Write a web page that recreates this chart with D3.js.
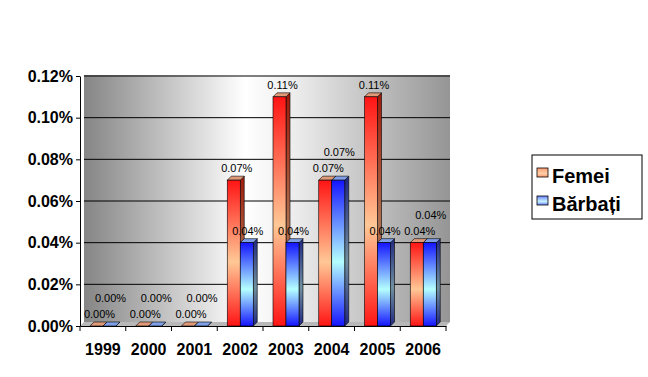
<!DOCTYPE html>
<html>
<head>
<meta charset="utf-8">
<script src="https://cdn.jsdelivr.net/npm/d3@7"></script>
<style>
  body { margin: 0; background: #fff; }
  svg { display: block; font-family: Arial, "Liberation Sans", sans-serif; }
</style>
</head>
<body>
<div id="chart"></div>
<script>
// values are already in percent (0.07 -> "0.07%")
var years = ["1999", "2000", "2001", "2002", "2003", "2004", "2005", "2006"];
var femei = [0, 0, 0, 0.07, 0.11, 0.07, 0.11, 0.04];
var barbati = [0, 0, 0, 0.04, 0.04, 0.07, 0.04, 0.04];
var seriesNames = ["Femei", "Bărbați"];
var yTicks = [0, 0.02, 0.04, 0.06, 0.08, 0.10, 0.12];

var svgWidth = 648, svgHeight = 377;
var depth = 4; // fake 3d offset
var pct = d => d.toFixed(2) + "%";

var svg = d3.select("#chart").append("svg")
  .attr("width", svgWidth)
  .attr("height", svgHeight);

var defs = svg.append("defs");

// back wall gradient
var wallGrad = defs.append("linearGradient").attr("id", "wall")
  .attr("x1", 0).attr("x2", 1).attr("y1", 0).attr("y2", 0);
wallGrad.append("stop").attr("offset", "0%").attr("stop-color", "#858585");
wallGrad.append("stop").attr("offset", "44%").attr("stop-color", "#ffffff");
wallGrad.append("stop").attr("offset", "58%").attr("stop-color", "#ececec");
wallGrad.append("stop").attr("offset", "100%").attr("stop-color", "#959595");

function vGrad(id, edge, mid) {
  var g = defs.append("linearGradient").attr("id", id)
    .attr("x1", 0).attr("x2", 0).attr("y1", 0).attr("y2", 1);
  g.append("stop").attr("offset", "0%").attr("stop-color", edge);
  g.append("stop").attr("offset", "56%").attr("stop-color", mid);
  g.append("stop").attr("offset", "100%").attr("stop-color", edge);
}
vGrad("redFront", "#ff1414", "#ffc896");
vGrad("blueFront", "#1414ff", "#b4ffff");
vGrad("redSide", "#a01a0a", "#b07050");
vGrad("blueSide", "#202880", "#7090a0");

var colors = {
  "Femei": { front: "url(#redFront)", side: "url(#redSide)", top: "#e09a78" },
  "Bărbați": { front: "url(#blueFront)", side: "url(#blueSide)", top: "#7fa0e8" }
};

// scales
var x0 = d3.scaleBand().domain(years).range([80, 446]);
var x1 = d3.scaleBand().domain(seriesNames).range([10, 36]);
var y = d3.scaleLinear().domain([0, 0.12]).range([326, 76]);

// back wall
svg.append("rect")
  .attr("x", 80 + depth).attr("y", y(0.12) - 1)
  .attr("width", x0.range()[1] - 80)
  .attr("height", y(0) - y(0.12) - 3)
  .attr("fill", "url(#wall)");

// floor
svg.append("path")
  .attr("d", `M80,${y(0)} L${80 + depth},${y(0) - depth} L${446 + depth},${y(0) - depth} L446,${y(0)} Z`)
  .attr("fill", "#b8b8b8");

// gridlines
svg.append("g").selectAll("line")
  .data(yTicks.slice(1))
  .enter().append("line")
  .attr("x1", 80 + depth).attr("x2", 446 + depth)
  .attr("y1", d => y(d)).attr("y2", d => y(d))
  .attr("stroke", "#000").attr("stroke-width", 1);

// y axis
var yAxis = d3.axisLeft(y).tickValues(yTicks)
  .tickFormat(pct).tickSize(4).tickSizeOuter(0);
var yG = svg.append("g").attr("transform", "translate(80,0)").call(yAxis);
yG.selectAll("text").attr("font-size", 16).attr("font-weight", "bold")
  .attr("font-family", "Arial, 'Liberation Sans', sans-serif").attr("fill", "#000")
  .attr("x", -7);

// bars
var rows = years.map((yr, i) => ({ year: yr, vals: [
  { name: "Femei", v: femei[i] }, { name: "Bărbați", v: barbati[i] }] }));

var groups = svg.append("g").selectAll("g")
  .data(rows).enter().append("g")
  .attr("transform", d => `translate(${x0(d.year)},0)`);

var bars = groups.selectAll("g.bar")
  .data(d => d.vals).enter().append("g").attr("class", "bar");

bars.each(function (d) {
  var g = d3.select(this);
  var bx = x1(d.name), bw = x1.bandwidth();
  var top = y(d.v), bot = y(0);
  var c = colors[d.name];
  // side face
  g.append("path")
    .attr("d", `M${bx + bw},${top} L${bx + bw + depth},${top - depth} L${bx + bw + depth},${bot - depth} L${bx + bw},${bot} Z`)
    .attr("fill", c.side).attr("stroke", "#000").attr("stroke-width", 0.6);
  // top face
  g.append("path")
    .attr("d", `M${bx},${top} L${bx + depth},${top - depth} L${bx + bw + depth},${top - depth} L${bx + bw},${top} Z`)
    .attr("fill", c.top).attr("stroke", "#000").attr("stroke-width", 0.6);
  // front face
  if (bot - top > 0.5) {
    g.append("rect")
      .attr("x", bx).attr("y", top)
      .attr("width", bw).attr("height", bot - top)
      .attr("fill", c.front).attr("stroke", "#000").attr("stroke-width", 0.6);
  }
});

// data labels
groups.each(function (d) {
  var g = d3.select(this);
  var ry = y(d.vals[0].v), by = y(d.vals[1].v);
  d.vals.forEach(function (s, k) {
    var cx = x1(s.name) + x1.bandwidth() / 2 + (k === 0 ? 3 : 1);
    var ly = y(s.v) - 8;
    if (k === 1 && Math.abs(ry - by) < 12) ly -= 16;
    g.append("text")
      .attr("x", cx).attr("y", ly)
      .attr("text-anchor", "middle")
      .attr("font-size", 11)
      .attr("fill", "#000")
      .text(pct(s.v));
  });
});

// x axis
var xAxis = d3.axisBottom(x0).tickSize(0).tickSizeOuter(0);
var xG = svg.append("g").attr("transform", `translate(0,${y(0)})`).call(xAxis);
xG.select(".domain").attr("stroke", "#000");
xG.selectAll("text").attr("font-size", 16).attr("font-weight", "bold")
  .attr("font-family", "Arial, 'Liberation Sans', sans-serif").attr("fill", "#000")
  .attr("dy", 0).attr("y", 29);
// category separators
xG.selectAll("line.sep")
  .data(years.concat(["end"]))
  .enter().append("line").attr("class", "sep")
  .attr("x1", (d, i) => 80 + i * x0.step()).attr("x2", (d, i) => 80 + i * x0.step())
  .attr("y1", 0).attr("y2", 5).attr("stroke", "#000");

// legend
var legend = svg.append("g").attr("transform", "translate(532,155)");
legend.append("rect").attr("width", 110).attr("height", 64)
  .attr("fill", "#fff").attr("stroke", "#000").attr("stroke-width", 1);
var legendGrad = [["lgRed", "#ff9a70", "#ffd0a8"], ["lgBlue", "#6a80ff", "#c8f4ff"]];
legendGrad.forEach(function (p) {
  var g = defs.append("linearGradient").attr("id", p[0])
    .attr("x1", 0).attr("x2", 0).attr("y1", 0).attr("y2", 1);
  g.append("stop").attr("offset", "0%").attr("stop-color", p[1]);
  g.append("stop").attr("offset", "60%").attr("stop-color", p[2]);
  g.append("stop").attr("offset", "100%").attr("stop-color", p[1]);
});
var items = legend.selectAll("g.item").data(seriesNames).enter().append("g")
  .attr("class", "item")
  .attr("transform", (d, i) => `translate(0,${21 + i * 28})`);
items.append("rect").attr("x", 5).attr("y", -8).attr("width", 11).attr("height", 9)
  .attr("fill", (d, i) => `url(#${legendGrad[i][0]})`).attr("stroke", "#000").attr("stroke-width", 0.8);
items.append("text").attr("x", 20).attr("y", 7)
  .attr("font-size", 20).attr("font-weight", "bold").attr("fill", "#000")
  .text(d => d);
</script>
</body>
</html>
